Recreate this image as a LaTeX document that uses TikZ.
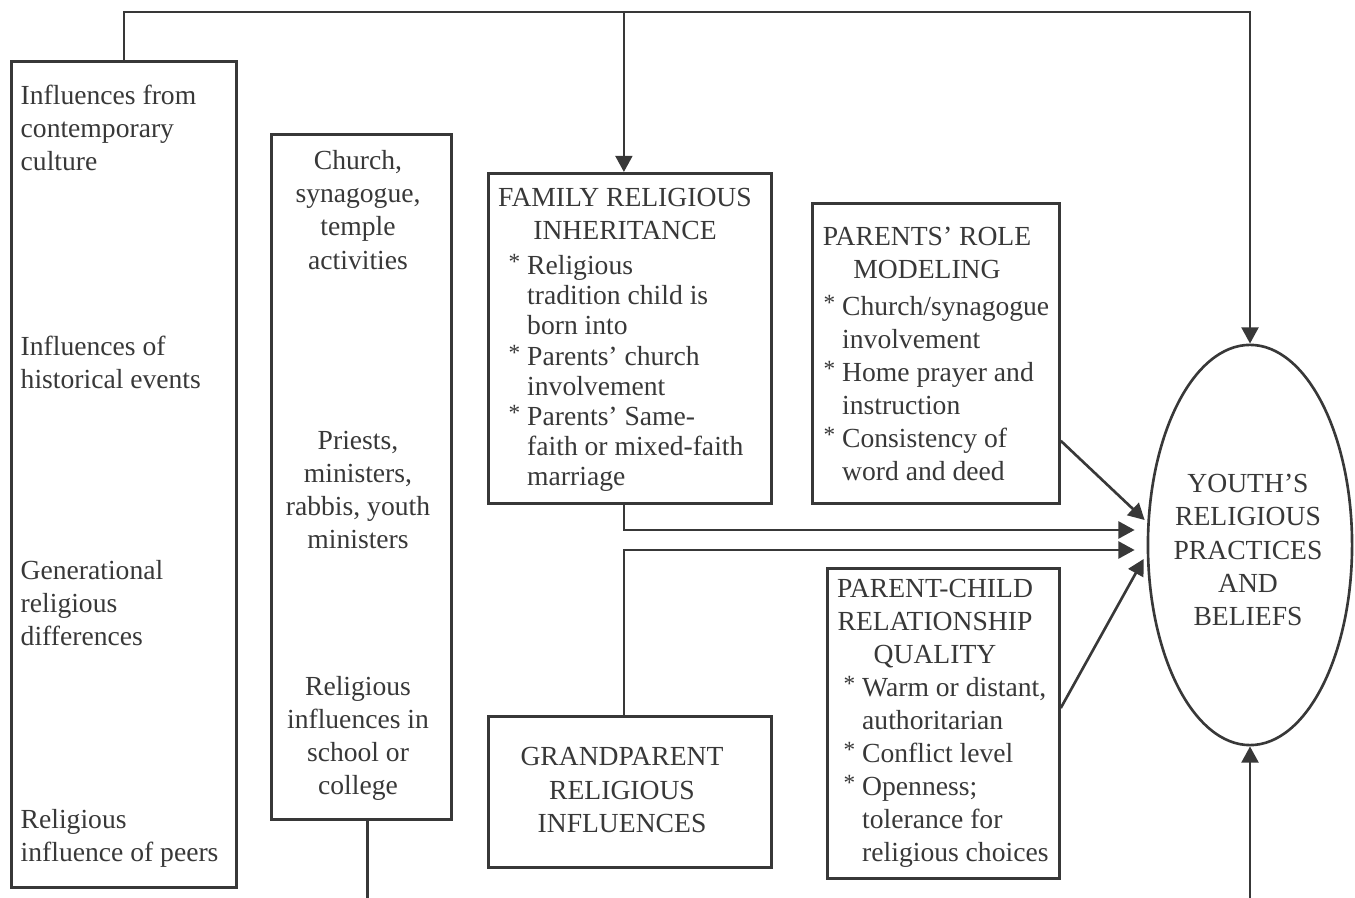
\documentclass[tikz,border=0pt]{standalone}
\usepackage{fontspec}
\setmainfont{Liberation Serif}
\usepackage{tikz}
\usetikzlibrary{arrows.meta,positioning,calc,shapes.geometric}
\definecolor{ink}{HTML}{383838}
\newcommand{\bstar}{\raisebox{0.18em}{\fontsize{6.6}{6.6}\selectfont *}}
\newcommand{\contline}{\hphantom{\bstar\ }}

\begin{document}
\begin{tikzpicture}[x=0.01cm, y=-0.01cm,
  frame/.style={draw=ink, line width=0.75pt, inner sep=0pt, anchor=north west},
  lbl/.style={text=ink, font=\fontsize{7.85}{9.4}\selectfont, inner sep=0pt},
  tight/.style={lbl, font=\fontsize{7.85}{8.55}\selectfont},
  arr/.style={draw=ink, line width=0.75pt, -{Triangle[length=4.6pt,width=4.8pt]}},
  link/.style={draw=ink, line width=0.75pt}]
  \useasboundingbox (0,0) rectangle (1355,898);

  % boxes
  \node[frame, minimum width=2.25cm, minimum height=8.26cm] (leftbox) at (10,60) {};
  \node[frame, minimum width=1.80cm, minimum height=6.85cm] (church) at (270,133) {};
  \node[frame, minimum width=2.83cm, minimum height=3.30cm] (family) at (487,172) {};
  \node[frame, minimum width=2.47cm, minimum height=3.00cm] (role) at (811,202) {};
  \node[frame, minimum width=2.83cm, minimum height=1.51cm] (grand) at (487,715) {};
  \node[frame, minimum width=2.32cm, minimum height=3.10cm] (pcq) at (826,567) {};
  \node[ellipse, draw=ink, line width=0.75pt, minimum width=2.04cm, minimum height=4.0cm,
        inner sep=0pt] (youth) at (1250,545) {};

  % left column texts
  \node[lbl, align=left, anchor=west] (t1) at (20,128) {Influences from\\contemporary\\culture};
  \node[lbl, align=left, anchor=west] (t2) at (20,362) {Influences of\\historical events};
  \node[lbl, align=left, anchor=west] (t3) at (20,603) {Generational\\religious\\differences};
  \node[lbl, align=left, anchor=west] (t4) at (20,838) {Religious\\influence of peers};

  % institutions
  \node[lbl, align=center] (c1) at (358,210) {Church,\\synagogue,\\temple\\activities};
  \node[lbl, align=center] (c2) at (358,490) {Priests,\\ministers,\\rabbis, youth\\ministers};
  \node[lbl, align=center] (c3) at (358,738) {Religious\\influences in\\school or\\college};

  % family
  \node[lbl, align=center] (f1) at (625,214) {FAMILY RELIGIOUS\\INHERITANCE};
  \node[tight, align=left, anchor=west] (f2) at (508,373)
    {\bstar\ Religious\\\contline tradition child is\\\contline born into\\
     \bstar\ Parents' church\\\contline involvement\\
     \bstar\ Parents' Same-\\\contline faith or mixed-faith\\\contline marriage};

  % parents
  \node[lbl, align=center] (r1) at (927,253) {PARENTS' ROLE\\MODELING};
  \node[lbl, align=left, anchor=west] (r2) at (823,388)
    {\bstar\ Church/synagogue\\\contline involvement\\
     \bstar\ Home prayer and\\\contline instruction\\
     \bstar\ Consistency of\\\contline word and deed};

  \node[lbl, align=center] (g1) at (622,790) {GRANDPARENT\\RELIGIOUS\\INFLUENCES};

  \node[lbl, align=center] (p1) at (935,624) {PARENT-CHILD\\RELATIONSHIP\\QUALITY};
  \node[lbl, align=left, anchor=west] (p2) at (843,772)
    {\bstar\ Warm or distant,\\\contline authoritarian\\
     \bstar\ Conflict level\\
     \bstar\ Openness;\\\contline tolerance for\\\contline religious choices};

  \node[lbl, align=center] (y1) at (1248,550) {YOUTH'S\\RELIGIOUS\\PRACTICES\\AND\\BELIEFS};

  % feedback line on top
  \coordinate (topline) at (0,12);
  \coordinate (btm) at (0,898);
  \draw[arr] (leftbox.north) |- (topline -| youth.north) -- (youth.north);
  \coordinate (famin) at ($(family.north)+(-6,0)$);
  \draw[arr] (topline -| famin) -- (famin);

  % into the youth
  \draw[arr] ($(family.south)+(-6,0)$) |- ($(youth.west)+(-12,-15)$);
  \draw[arr] ($(grand.north)+(-6,0)$) |- ($(youth.west)+(-12,5)$);
  \draw[arr] ($(role.south east)+(0,-64)$) -- ($(youth.west)+(-2,-25)$);
  \draw[arr] ($(pcq.north east)+(0,141)$) -- ($(youth.west)+(-3,14)$);
  \draw[arr] (btm -| youth.south) -- (youth.south);

  \coordinate (chout) at ($(church.south)+(6,0)$);
  \draw[link] (chout) -- (chout |- btm);
\end{tikzpicture}
\end{document}
